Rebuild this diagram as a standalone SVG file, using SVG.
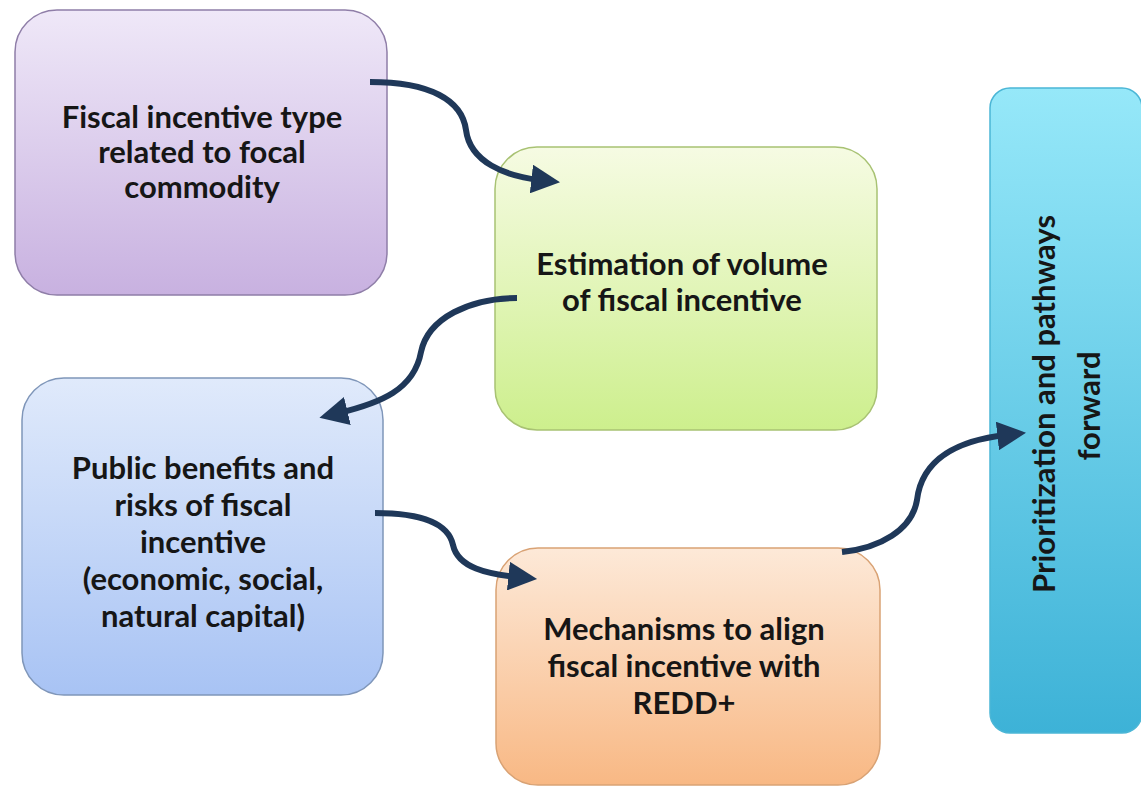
<svg xmlns="http://www.w3.org/2000/svg" width="1141" height="792" viewBox="0 0 1141 792">
<defs>
<linearGradient id="gP" x1="0" y1="0" x2="0" y2="1"><stop offset="0" stop-color="#efe8f8"/><stop offset="1" stop-color="#c8b1e0"/></linearGradient>
<linearGradient id="gG" x1="0" y1="0" x2="0" y2="1"><stop offset="0" stop-color="#f6fbe3"/><stop offset="1" stop-color="#cdef8d"/></linearGradient>
<linearGradient id="gB" x1="0" y1="0" x2="0" y2="1"><stop offset="0" stop-color="#e0eafb"/><stop offset="1" stop-color="#a8c3f4"/></linearGradient>
<linearGradient id="gO" x1="0" y1="0" x2="0" y2="1"><stop offset="0" stop-color="#fde9d8"/><stop offset="1" stop-color="#f8b884"/></linearGradient>
<linearGradient id="gC" x1="0" y1="0" x2="0" y2="1"><stop offset="0" stop-color="#96e8f9"/><stop offset="1" stop-color="#3db2d7"/></linearGradient>
<marker id="ah" viewBox="0 0 10 10" refX="3" refY="5" markerWidth="4.8" markerHeight="4.8" orient="auto" markerUnits="strokeWidth"><path d="M0,0 L10,5 L0,10 z" fill="#1f3859"/></marker>
</defs>
<style>
.box{stroke-width:1.5}
.t{font-family:Lato,"Open Sans","Liberation Sans",sans-serif;font-weight:bold;font-size:31px;fill:#161616;text-anchor:middle}
.c{fill:none;stroke:#1f3859;stroke-width:6;stroke-linecap:butt}
</style>
<rect width="1141" height="792" fill="#ffffff"/>
<g id="n1">
<rect class="box" x="15" y="10" width="372" height="285" rx="42" fill="url(#gP)" stroke="#8f7ea8"/>
<text class="t" x="202" y="128">Fiscal incentive type</text>
<text class="t" x="202" y="163">related to focal</text>
<text class="t" x="202" y="198">commodity</text>
</g>
<g id="n2">
<rect class="box" x="495" y="147" width="382" height="283" rx="42" fill="url(#gG)" stroke="#a8c273"/>
<text class="t" x="682" y="275">Estimation of volume</text>
<text class="t" x="682" y="311">of fiscal incentive</text>
</g>
<g id="n3">
<rect class="box" x="22" y="378" width="361" height="317" rx="42" fill="url(#gB)" stroke="#7f96b9"/>
<text class="t" x="203" y="479">Public benefits and</text>
<text class="t" x="203" y="516">risks of fiscal</text>
<text class="t" x="203" y="553">incentive</text>
<text class="t" x="203" y="590">(economic, social,</text>
<text class="t" x="203" y="627">natural capital)</text>
</g>
<g id="n4">
<rect class="box" x="496" y="548" width="384" height="237" rx="42" fill="url(#gO)" stroke="#d9a274"/>
<text class="t" x="684" y="640">Mechanisms to align</text>
<text class="t" x="684" y="677">fiscal incentive with</text>
<text class="t" x="684" y="714">REDD+</text>
</g>
<g id="n5">
<rect class="box" x="990" y="88" width="152" height="645" rx="20" fill="url(#gC)" stroke="#4bb6d6"/>
<text class="t" transform="translate(1055,404) rotate(-90)">Prioritization and pathways</text>
<text class="t" transform="translate(1100,406) rotate(-90)">forward</text>
</g>
<g id="connectors">
<path class="c" marker-end="url(#ah)" d="M370,82 C430,82 462,100 466,130 C470,162 505,176 540,180"/>
<path class="c" marker-end="url(#ah)" d="M517,298 C470,298 428,318 421,352 C414,390 380,403 339,413"/>
<path class="c" marker-end="url(#ah)" d="M375,513 C420,513 448,522 453,545 C458,568 488,574 517,577"/>
<path class="c" marker-end="url(#ah)" d="M842,552 C880,548 912,530 917,500 C922,458 960,440 1006,435"/>
</g>
</svg>
